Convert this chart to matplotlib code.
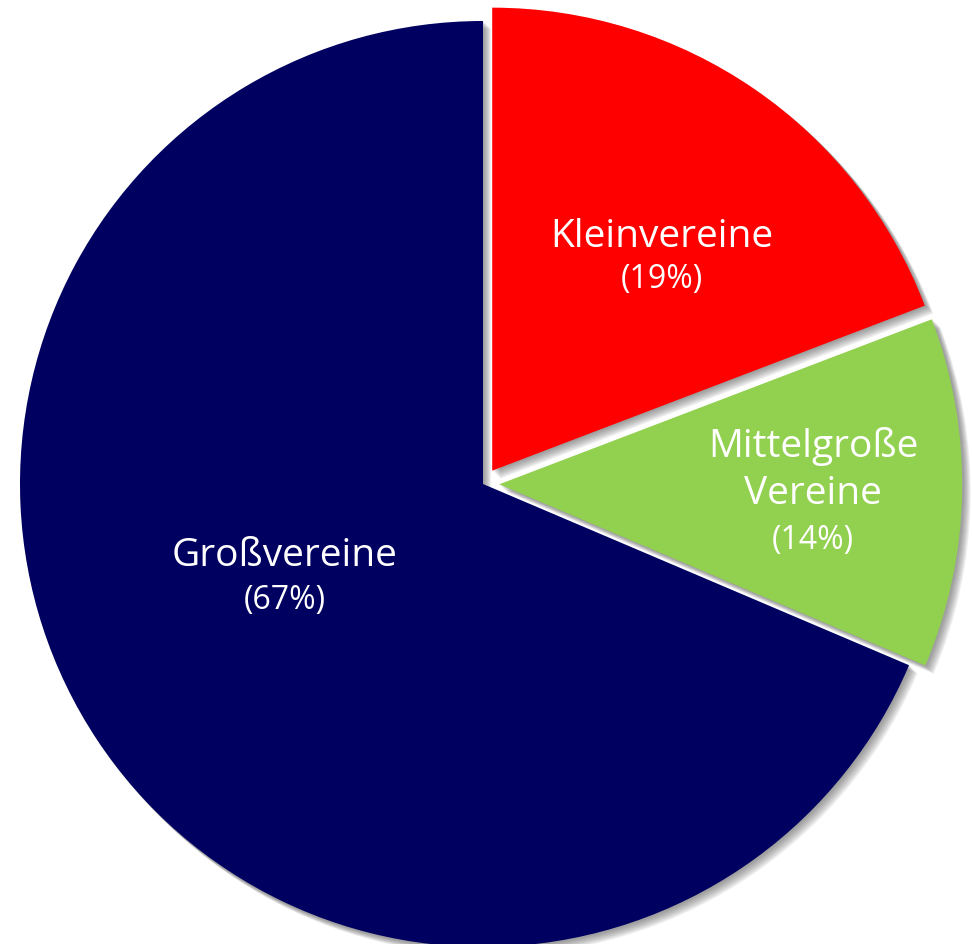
import numpy as np
import matplotlib
matplotlib.use("Agg")
import matplotlib.pyplot as plt
from matplotlib.patches import Wedge

# Anteile wie im Bild gezeichnet (Winkel)
categories = ["Kleinvereine", "Mittelgroße\nVereine", "Großvereine"]
shares = [19.2, 12.2, 68.6]
pct_labels = ["(19%)", "(14%)", "(67%)"]
colors = ["#FF0000", "#92D050", "#000060"]
explode = [0.035, 0.035, 0.0]  # Anteil vom Radius

W, H = 972, 945
fig = plt.figure(figsize=(W / 100, H / 100), dpi=100)
ax = fig.add_axes([0, 0, 1, 1])

center = (483, H - 485)
radius = 463

wedges, _ = ax.pie(shares, colors=colors, explode=[e * radius for e in explode],
                   startangle=90, counterclock=False, center=center, radius=radius,
                   frame=True, wedgeprops=dict(linewidth=0, zorder=3))
ax.set_xlim(0, W)
ax.set_ylim(0, H)
ax.set_aspect("equal")
ax.axis("off")

# weicher Schatten nach rechts unten
for w in wedges:
    cx, cy = w.center
    for k in range(1, 9):
        sh = Wedge((cx + k * 1.0, cy - k * 1.0), w.r + 0.5, w.theta1, w.theta2,
                   facecolor="#505050", edgecolor="none", alpha=0.09, zorder=1)
        ax.add_patch(sh)

# Beschriftungen (Bildkoordinaten, y von oben)
font = ["Open Sans", "DejaVu Sans"]
name_pos = [(662, 237), (813, 470), (285, 556)]
pct_pos = [(662, 280), (813, 541), (285, 601)]
for name, pct, (nx, ny), (px, py) in zip(categories, pct_labels, name_pos, pct_pos):
    ax.text(nx, H - ny, name, color="white", fontsize=28, ha="center", va="center",
            family=font, linespacing=1.3, zorder=5)
    ax.text(px, H - py, pct, color="white", fontsize=23, ha="center", va="center",
            family=font, zorder=5)

fig.savefig("out.png", dpi=100)
